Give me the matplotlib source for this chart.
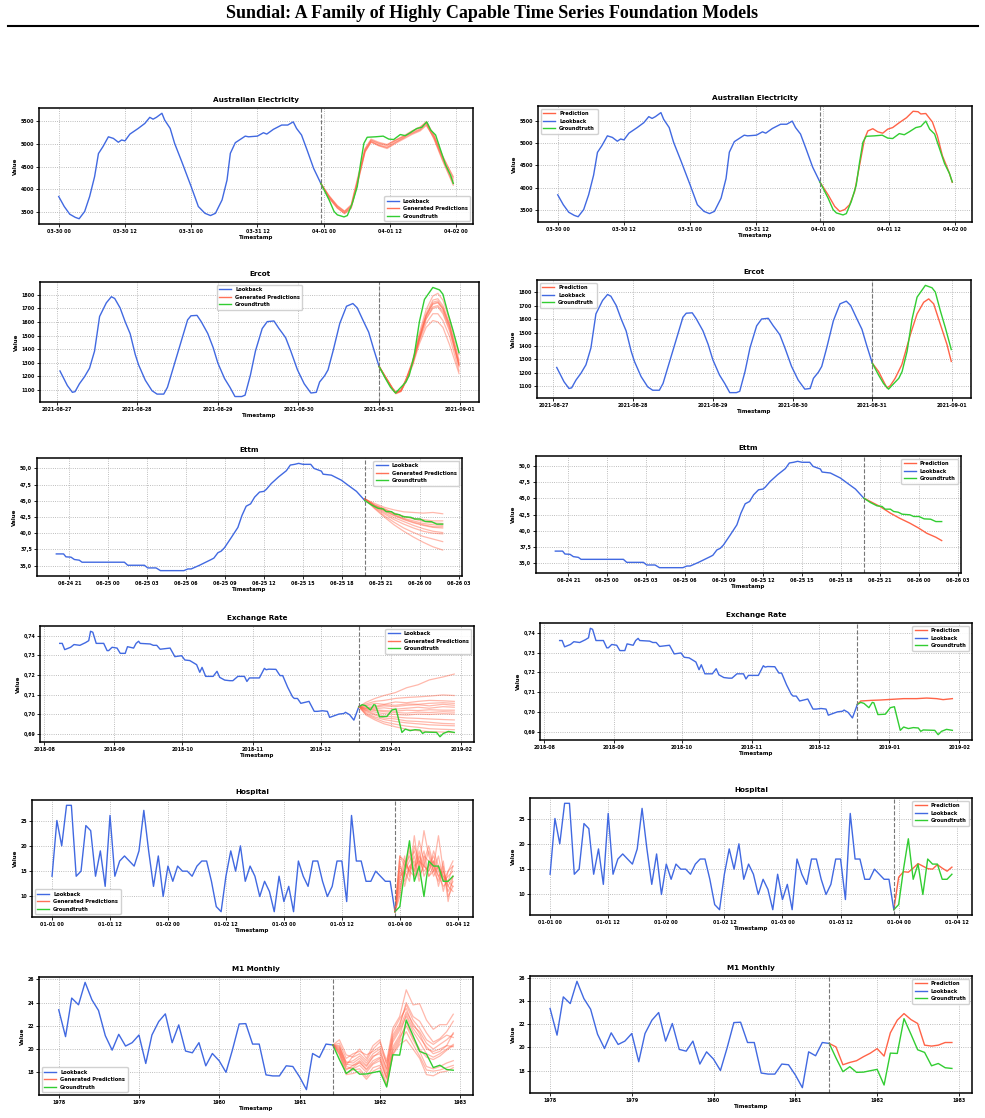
import matplotlib
matplotlib.use('Agg')
import matplotlib.pyplot as plt
import matplotlib.dates as mdates
from matplotlib.lines import Line2D
from matplotlib.ticker import FuncFormatter, MultipleLocator
import numpy as np
import pandas as pd

plt.rcParams['font.family'] = 'DejaVu Sans'
plt.rcParams['font.weight'] = 'bold'
plt.rcParams['axes.labelweight'] = 'bold'
plt.rcParams['axes.titleweight'] = 'bold'

LOOK = '#4169E1'
PRED = '#FF6347'
GT = '#32CD32'

# ---- Australian Electricity (hours from 03-30 00:00)
aus_lb_h = [0, 1, 2, 3, 3.7, 4.7, 5.6, 6.5, 7.2, 8, 9, 9.9, 10.8, 11.4, 12, 12.9, 14.4, 15.6, 16.5, 17.1,
            17.7, 18.7, 19.2, 20.2, 21, 22.3, 24, 25.3, 26.5, 27.5, 28.4, 29.6, 30.5, 31.1, 32, 33.8, 34.4,
            36, 37.1, 37.7, 38.9, 40.4, 41.5, 42.5, 43.1, 44, 45, 46.2, 47.5]
aus_lb = [3840, 3620, 3450, 3380, 3350, 3510, 3840, 4280, 4790, 4940, 5160, 5125, 5040, 5090, 5070, 5220,
          5345, 5455, 5590, 5550, 5590, 5680, 5530, 5345, 5015, 4610, 4060, 3620, 3470, 3420, 3470, 3765,
          4205, 4795, 5030, 5175, 5160, 5175, 5250, 5220, 5325, 5420, 5420, 5490, 5345, 5200, 4870, 4460, 4130]
aus_gt_h = [47.5, 49, 49.9, 50.5, 51.7, 52.3, 53.2, 54.1, 54.7, 55.3, 55.9, 57.4, 58.8, 59.8, 60.7, 61.9,
            62.8, 63.7, 64.9, 65.8, 66.7, 67.4, 68.3, 69.2, 70.1, 71, 71.5]
aus_gt = [4130, 3765, 3510, 3435, 3390, 3420, 3690, 4060, 4570, 5015, 5150, 5160, 5175, 5110, 5100, 5210,
          5185, 5250, 5345, 5370, 5490, 5310, 5200, 4870, 4540, 4315, 4130]
aus_pred_h = [47.5, 49, 50.2, 51.1, 52, 52.9, 53.8, 54.7, 55.6, 56.2, 57.1, 58, 58.9, 59.8, 60.7, 61.9,
              63.2, 64.4, 65.3, 65.8, 66.7, 67.9, 68.8, 69.7, 70.9, 71.5]
aus_pred = [4130, 3840, 3580, 3470, 3510, 3620, 3910, 4500, 5090, 5270, 5320, 5250, 5220, 5310, 5345, 5455,
            5565, 5710, 5700, 5650, 5660, 5470, 5160, 4720, 4350, 4120]
aus_smp_h = [47.5, 49, 50.5, 51.8, 53, 54.3, 55.5, 56.6, 58, 59.5, 61, 62.5, 64, 65.5, 66.6, 68, 69.5, 71.5]
aus_smp = [
    [4130, 3840, 3620, 3500, 3640, 4280, 4870, 5080, 5010, 4960, 5070, 5160, 5260, 5340, 5470, 5170, 4720, 4200],
    [4130, 3810, 3580, 3470, 3590, 4200, 4820, 5050, 4980, 4930, 5040, 5130, 5230, 5310, 5430, 5130, 4670, 4120],
    [4130, 3850, 3640, 3520, 3660, 4320, 4900, 5110, 5040, 4990, 5090, 5180, 5290, 5370, 5500, 5200, 4760, 4250],
    [4130, 3820, 3600, 3480, 3610, 4240, 4840, 5060, 4970, 4920, 5030, 5140, 5280, 5380, 5460, 5110, 4650, 4090],
    [4130, 3860, 3630, 3510, 3630, 4260, 4880, 5090, 5020, 4980, 5080, 5170, 5240, 5320, 5480, 5190, 4740, 4280],
    [4130, 3800, 3590, 3460, 3580, 4210, 4830, 5040, 4960, 4900, 5010, 5110, 5210, 5290, 5410, 5150, 4700, 4150],
]

# ---- Ercot (hours from 2021-08-27 00:00)
ercot_lb_h = [1, 3.2, 4.7, 5.5, 6.8, 8.3, 9.8, 11.3, 12.8, 14.8, 16.3, 17.3, 18.9, 20.4, 21.9, 23.4, 24.4,
              26.4, 28.4, 29.9, 31.9, 33, 35, 37, 39, 40, 41.8, 43, 45, 46.6, 48, 50, 51.6, 53.1, 55.1, 56.1,
              57.7, 59.2, 61.2, 62.7, 64.7, 66.2, 67.2, 68.2, 69.7, 71.7, 73.7, 75.7, 77.3, 78.3, 79.8, 80.8,
              82.3, 84.3, 86.3, 88.2, 89.5, 91.4, 92.9, 94.4, 96]
ercot_lb = [1240, 1133, 1083, 1088, 1146, 1197, 1260, 1386, 1640, 1740, 1785, 1772, 1703, 1602, 1513, 1362,
            1285, 1172, 1095, 1070, 1070, 1120, 1285, 1450, 1615, 1645, 1648, 1604, 1515, 1412, 1298, 1184,
            1120, 1052, 1052, 1062, 1210, 1387, 1551, 1602, 1607, 1551, 1518, 1483, 1387, 1248, 1146, 1078,
            1083, 1159, 1205, 1248, 1387, 1589, 1715, 1735, 1703, 1602, 1525, 1399, 1273]
ercot_gt_h = [96, 97.9, 99.4, 100.9, 102.5, 104, 105, 106.5, 108, 109.5, 112, 114, 115, 116.5, 118, 119.8]
ercot_gt = [1273, 1184, 1120, 1078, 1120, 1159, 1210, 1361, 1602, 1765, 1853, 1835, 1803, 1664, 1538, 1374]
ercot_pred_h = [96, 97.9, 100.4, 101.4, 102.9, 104.9, 107.5, 109.5, 111.5, 113, 114.5, 116.5, 118.5, 119.8]
ercot_pred = [1273, 1210, 1088, 1103, 1159, 1260, 1487, 1640, 1727, 1752, 1715, 1563, 1412, 1285]
ercot_smp_h = [96, 98, 100, 101, 102.5, 104, 106, 108, 110, 112, 113.5, 115, 117, 119.8]
ercot_smp = [
    [1273, 1195, 1115, 1085, 1100, 1180, 1320, 1520, 1690, 1790, 1810, 1760, 1620, 1360],
    [1273, 1185, 1105, 1075, 1090, 1165, 1290, 1460, 1590, 1660, 1660, 1610, 1490, 1240],
    [1273, 1190, 1110, 1080, 1095, 1170, 1300, 1480, 1640, 1730, 1740, 1700, 1570, 1300],
    [1273, 1188, 1108, 1078, 1092, 1168, 1295, 1470, 1620, 1700, 1710, 1660, 1530, 1280],
    [1273, 1192, 1112, 1082, 1098, 1175, 1310, 1500, 1660, 1760, 1770, 1720, 1590, 1320],
    [1273, 1186, 1104, 1072, 1088, 1160, 1280, 1440, 1560, 1610, 1600, 1560, 1430, 1220],
    [1273, 1191, 1111, 1081, 1096, 1172, 1305, 1490, 1650, 1745, 1755, 1705, 1575, 1290],
    [1273, 1189, 1109, 1079, 1094, 1169, 1298, 1475, 1625, 1710, 1720, 1675, 1545, 1270],
    [1273, 1190, 1110, 1080, 1095, 1172, 1302, 1485, 1645, 1735, 1745, 1690, 1560, 1285],
]

# ---- Ettm (hours from 06-24 20:00)
ettm_lb_h = [0, 0.56, 0.74, 1.13, 1.39, 1.77, 1.98, 5.24, 5.5, 6.78, 7.04, 7.68, 8.02, 9.82, 10.13, 10.38,
             11.03, 11.93, 12.13, 12.44, 12.7, 12.95, 13.47, 13.98, 14.29, 14.62, 14.96, 15.27, 15.65, 15.99,
             16.17, 16.55, 17.12, 17.71, 18.02, 18.35, 18.66, 19, 19.59, 19.84, 20.41, 20.54, 21.18, 21.95,
             22.47, 23.11, 23.75]
ettm_lb = [36.8, 36.8, 36.35, 36.3, 35.94, 35.83, 35.52, 35.52, 35.05, 35.05, 34.64, 34.64, 34.22, 34.22,
           34.48, 34.48, 35.05, 35.94, 36.15, 36.98, 37.24, 37.76, 39.32, 40.89, 42.71, 44.17, 44.53, 45.57,
           46.35, 46.46, 46.77, 47.66, 48.7, 49.64, 50.52, 50.63, 50.78, 50.63, 50.63, 50.0, 49.58, 49.11,
           48.96, 48.18, 47.4, 46.46, 45.05]
ettm_gt_h = [23.75, 24.26, 24.77, 25.16, 25.4, 25.8, 26.05, 26.4, 26.7, 27.3, 27.6, 28, 28.4, 28.9, 29.3, 29.75]
ettm_gt = [45.05, 44.37, 43.85, 43.75, 43.33, 43.33, 42.97, 42.86, 42.55, 42.45, 42.19, 42.19, 41.82, 41.77,
           41.4, 41.4]
ettm_pred_h = [23.75, 25, 25.8, 26.5, 27.3, 28, 28.6, 29.3, 29.75]
ettm_pred = [45.05, 43.75, 42.71, 41.93, 41.15, 40.36, 39.58, 38.96, 38.44]
ettm_smp_h = [23.75, 24.5, 25.25, 26, 26.75, 27.5, 28.25, 29, 29.75]
ettm_smp = [
    [45.3, 44.6, 44.0, 43.6, 43.3, 43.2, 43.1, 43.2, 43.0],
    [45.3, 44.4, 43.8, 43.1, 42.6, 42.3, 42.1, 41.9, 41.9],
    [45.3, 44.3, 43.6, 42.9, 42.3, 41.9, 41.5, 41.3, 41.2],
    [45.3, 44.2, 43.4, 42.7, 42.1, 41.6, 41.2, 40.9, 40.8],
    [45.3, 44.1, 43.2, 42.4, 41.8, 41.2, 40.7, 40.3, 40.1],
    [45.3, 44.0, 43.0, 42.1, 41.4, 40.8, 40.3, 40.0, 39.9],
    [45.3, 43.9, 42.7, 41.7, 40.8, 40.1, 39.5, 39.1, 38.7],
    [45.3, 43.8, 42.5, 41.3, 40.3, 39.4, 38.6, 37.9, 37.4],
    [45.3, 44.3, 43.7, 43.1, 42.6, 42.2, 41.8, 41.6, 41.5],
    [45.3, 44.2, 43.5, 42.8, 42.2, 41.7, 41.3, 41.0, 41.0],
]

# ---- Exchange Rate (days from 2018-08-01)
ex_lb_d = [6.9, 8, 9.1, 11.7, 13.2, 15.8, 18.3, 19.7, 20.5, 21.5, 23, 26.3, 27.8, 28.5, 30, 32.2, 33.6, 35.8,
           36.8, 39.5, 40.6, 41.7, 42.4, 46.8, 48.2, 49.7, 51.2, 55.6, 57.7, 60.7, 62.1, 64.3, 67.3, 68.7,
           69.7, 71.3, 74.6, 76.3, 77.5, 79.7, 81.9, 83.3, 85.5, 88.4, 89.5, 90.6, 95, 97.2, 98, 99.1, 102.3,
           104.1, 105.3, 107.5, 109.6, 110.4, 111.8, 113.3, 116.9, 119.2, 120.6, 122.8, 125, 126, 130.1, 132.3,
           133, 134.8, 136.7, 138.9]
ex_lb = [0.7362, 0.7362, 0.733, 0.7342, 0.7356, 0.7352, 0.7366, 0.7376, 0.7424, 0.7419, 0.7362, 0.7362,
         0.7325, 0.7325, 0.7342, 0.7338, 0.7311, 0.7311, 0.7345, 0.7338, 0.7362, 0.7373, 0.7362, 0.7359,
         0.7352, 0.7352, 0.7332, 0.7338, 0.7294, 0.7299, 0.7277, 0.7274, 0.7253, 0.7214, 0.7239, 0.7193,
         0.7193, 0.7219, 0.7188, 0.7174, 0.7171, 0.7171, 0.7193, 0.7193, 0.7167, 0.7185, 0.7185, 0.7234,
         0.7227, 0.723, 0.7229, 0.7197, 0.7197, 0.7137, 0.7089, 0.708, 0.708, 0.7055, 0.7065, 0.7014, 0.7014,
         0.7017, 0.7014, 0.6983, 0.7, 0.7003, 0.7009, 0.6997, 0.6969, 0.7038]
ex_gt_d = [138.9, 140.4, 141.8, 144, 145.5, 146.2, 148, 151.3, 153.5, 155.3, 157.9, 159.4, 161.5, 163.7,
           165.9, 167, 168.1, 173.2, 174.7, 176.2, 178.4, 181]
ex_gt = [0.7038, 0.7048, 0.7043, 0.7021, 0.7048, 0.7046, 0.6986, 0.6988, 0.7021, 0.7026, 0.6906, 0.6923,
         0.6915, 0.692, 0.6918, 0.6901, 0.6908, 0.6906, 0.6884, 0.6901, 0.6911, 0.6906]
ex_pred_d = [138.9, 140.4, 144.7, 149.1, 153.5, 159.4, 165.2, 169.6, 174, 176.9, 181]
ex_pred = [0.7038, 0.7055, 0.7058, 0.706, 0.7063, 0.7067, 0.7067, 0.707, 0.7067, 0.7062, 0.7067]
ex_smp_d = [138.9, 142, 146, 150, 155, 160, 165, 170, 176, 181]
ex_smp = [
    [0.7038, 0.7060, 0.7080, 0.7095, 0.7110, 0.7135, 0.7150, 0.7175, 0.7190, 0.7205],
    [0.7038, 0.7052, 0.7065, 0.7070, 0.7080, 0.7085, 0.7088, 0.7092, 0.7098, 0.7095],
    [0.7038, 0.7045, 0.7055, 0.7050, 0.7062, 0.7058, 0.7065, 0.7070, 0.7068, 0.7065],
    [0.7038, 0.7042, 0.7040, 0.7048, 0.7045, 0.7052, 0.7050, 0.7055, 0.7058, 0.7055],
    [0.7038, 0.7030, 0.7035, 0.7042, 0.7038, 0.7045, 0.7048, 0.7042, 0.7050, 0.7045],
    [0.7038, 0.7035, 0.7028, 0.7032, 0.7025, 0.7030, 0.7035, 0.7030, 0.7038, 0.7035],
    [0.7038, 0.7028, 0.7022, 0.7018, 0.7015, 0.7020, 0.7018, 0.7022, 0.7020, 0.7020],
    [0.7038, 0.7025, 0.7018, 0.7012, 0.7008, 0.7005, 0.7010, 0.7008, 0.7012, 0.7010],
    [0.7038, 0.7020, 0.7010, 0.7002, 0.6998, 0.6995, 0.7000, 0.6998, 0.7002, 0.7000],
    [0.7038, 0.7018, 0.7000, 0.6990, 0.6985, 0.6980, 0.6978, 0.6975, 0.6972, 0.6970],
    [0.7038, 0.7012, 0.6995, 0.6980, 0.6975, 0.6965, 0.6962, 0.6958, 0.6952, 0.6950],
    [0.7038, 0.7005, 0.6985, 0.6972, 0.6962, 0.6955, 0.6950, 0.6945, 0.6942, 0.6940],
    [0.7038, 0.7000, 0.6978, 0.6960, 0.6948, 0.6938, 0.6932, 0.6925, 0.6922, 0.6920],
    [0.7038, 0.6995, 0.6970, 0.6950, 0.6935, 0.6922, 0.6915, 0.6910, 0.6908, 0.6905],
]

# ---- Hospital (hourly from 01-01 00:00)
hosp_lb = [14, 25, 20, 28, 28, 14, 15, 24, 23, 14, 19, 12, 26, 14, 17, 18, 17, 16, 19, 27, 19, 12, 18, 10,
           16, 13, 16, 15, 15, 14, 16, 17, 17, 13, 8, 7, 14, 19, 15, 20, 13, 16, 14, 10, 13, 11, 7, 14, 9, 12,
           7, 17, 14, 12, 17, 17, 13, 10, 12, 17, 17, 9, 26, 17, 17, 13, 13, 15, 14, 13, 13, 7]
hosp_gt = [7, 8, 15, 21, 13, 16, 10, 17, 16, 16, 13, 13, 14]
hosp_pred = [7, 13.4, 14.5, 14.4, 15.2, 16.1, 15.6, 15.1, 15.0, 15.9, 15.2, 14.6, 15.4]
hosp_smp = [
    [7, 18, 16, 20, 14, 18, 16, 15, 17, 14, 12, 13, 16],
    [7, 12, 15, 17, 19, 16, 23, 18, 15, 16, 14, 11, 13],
    [7, 15, 13, 16, 15, 21, 17, 14, 16, 22, 15, 12, 14],
    [7, 10, 17, 15, 18, 14, 16, 19, 15, 13, 17, 10, 12],
    [7, 16, 14, 19, 16, 17, 15, 16, 18, 15, 13, 14, 15],
    [7, 13, 18, 14, 22, 15, 18, 17, 14, 16, 11, 15, 17],
    [7, 17, 12, 16, 17, 13, 17, 20, 16, 14, 15, 12, 11],
    [7, 11, 16, 18, 15, 19, 14, 16, 17, 12, 16, 9, 14],
    [7, 14, 15, 13, 20, 17, 16, 15, 19, 16, 14, 13, 12],
    [7, 18, 17, 15, 14, 16, 19, 14, 15, 18, 13, 15, 16],
]

# ---- M1 Monthly (monthly from 1978-01)
m1_lb = [23.38, 21.07, 24.39, 23.81, 25.74, 24.24, 23.32, 21.15, 19.91, 21.27, 20.26, 20.55, 21.21, 18.76,
         21.21, 22.37, 23.03, 20.55, 22.08, 19.83, 19.68, 20.55, 18.56, 19.62, 18.99, 18.0, 19.91, 22.16,
         22.19, 20.43, 20.43, 17.78, 17.69, 17.69, 18.56, 18.5, 17.6, 16.51, 19.62, 19.28, 20.43, 20.35]
m1_gt = [20.35, 19.1, 17.9, 18.33, 17.84, 17.86, 17.98, 18.1, 16.74, 19.51, 19.48, 22.5, 21.15, 19.8, 19.57,
         18.41, 18.61, 18.24, 18.18]
m1_pred = [20.35, 20.05, 18.5, 18.7, 18.85, 19.2, 19.5, 19.9, 19.25, 21.27, 22.37, 22.94, 22.42, 22.08, 20.2,
           20.12, 20.2, 20.43, 20.43]
m1_smp = [
    [20.35, 20.8, 19.5, 19.3, 19.6, 19.0, 20.0, 20.6, 19.0, 21.8, 22.8, 25.1, 23.8, 23.9, 22.5, 21.7, 22.1, 22.1, 23.0],
    [20.35, 20.3, 18.8, 19.0, 19.4, 18.8, 19.6, 20.0, 18.2, 21.0, 22.0, 24.0, 22.8, 22.4, 21.4, 20.6, 20.9, 21.5, 22.4],
    [20.35, 19.8, 18.2, 18.6, 18.8, 18.3, 19.0, 19.3, 17.6, 20.2, 21.2, 23.0, 21.8, 21.0, 20.2, 19.6, 19.8, 20.3, 21.4],
    [20.35, 20.0, 18.5, 18.3, 18.6, 18.0, 18.7, 19.0, 17.4, 19.8, 20.8, 22.3, 21.0, 20.0, 19.3, 19.1, 19.4, 19.9, 20.3],
    [20.35, 19.6, 17.9, 18.2, 18.3, 17.6, 18.4, 18.6, 17.0, 19.6, 20.6, 21.5, 20.4, 19.4, 18.2, 18.1, 18.2, 18.4, 18.6],
    [20.35, 19.9, 18.6, 19.4, 20.0, 19.2, 20.3, 20.8, 18.6, 21.5, 22.6, 23.5, 22.0, 21.5, 20.5, 20.0, 20.4, 20.8, 21.3],
    [20.35, 19.5, 17.8, 17.9, 18.1, 17.4, 18.1, 18.4, 16.8, 19.5, 20.4, 20.8, 20.0, 19.2, 17.8, 17.7, 18.0, 18.1, 18.4],
    [20.35, 20.2, 18.9, 18.8, 19.2, 18.6, 19.4, 19.6, 17.9, 20.6, 21.6, 22.8, 21.5, 20.6, 19.6, 19.3, 19.6, 20.0, 20.4],
    [20.35, 20.5, 19.2, 19.6, 19.8, 19.5, 19.8, 20.2, 18.8, 21.2, 22.2, 23.8, 22.5, 21.8, 20.8, 20.4, 20.8, 21.2, 21.0],
    [20.35, 19.7, 18.3, 18.4, 18.9, 18.2, 18.8, 19.2, 17.5, 20.0, 21.0, 22.0, 20.8, 19.8, 18.5, 18.3, 18.5, 18.8, 19.0],
    [20.35, 20.1, 18.7, 18.6, 19.0, 18.5, 19.3, 19.8, 18.3, 20.8, 21.8, 23.2, 22.2, 21.3, 20.0, 19.8, 20.0, 20.3, 20.2],
]


def hours(start, h):
    return pd.Timestamp(start) + pd.to_timedelta(np.asarray(h, dtype=float), unit='h')


def days(start, d):
    return pd.Timestamp(start) + pd.to_timedelta(np.asarray(d, dtype=float), unit='D')


def months(start, m):
    return pd.DatetimeIndex([pd.Timestamp(start) + pd.DateOffset(months=int(k)) for k in m])


comma1 = FuncFormatter(lambda v, p: f'{v:.1f}'.replace('.', ','))
comma2 = FuncFormatter(lambda v, p: f'{v:.2f}'.replace('.', ','))

aus = dict(title='Australian Electricity',
           lb=(hours('2015-03-30', aus_lb_h), aus_lb), gt=(hours('2015-03-30', aus_gt_h), aus_gt),
           pred=(hours('2015-03-30', aus_pred_h), aus_pred),
           smp=(hours('2015-03-30', aus_smp_h), aus_smp),
           loc=mdates.HourLocator(byhour=[0, 12]), fmt=mdates.DateFormatter('%m-%d %H'),
           ystep=500, yfmt=None, legL='lower right', legR='upper left')
ercot = dict(title='Ercot',
             lb=(hours('2021-08-27', ercot_lb_h), ercot_lb), gt=(hours('2021-08-27', ercot_gt_h), ercot_gt),
             pred=(hours('2021-08-27', ercot_pred_h), ercot_pred),
             smp=(hours('2021-08-27', ercot_smp_h), ercot_smp),
             loc=mdates.DayLocator(), fmt=mdates.DateFormatter('%Y-%m-%d'),
             ystep=100, yfmt=None, legL='upper center', legR='upper left')
ettm = dict(title='Ettm',
            lb=(hours('2017-06-24 20:00', ettm_lb_h), ettm_lb), gt=(hours('2017-06-24 20:00', ettm_gt_h), ettm_gt),
            pred=(hours('2017-06-24 20:00', ettm_pred_h), ettm_pred),
            smp=(hours('2017-06-24 20:00', ettm_smp_h), ettm_smp),
            loc=mdates.HourLocator(byhour=range(0, 24, 3)), fmt=mdates.DateFormatter('%m-%d %H'),
            ystep=2.5, yfmt=comma1, legL='upper right', legR='upper right')
exch = dict(title='Exchange Rate',
            lb=(days('2018-08-01', ex_lb_d), ex_lb), gt=(days('2018-08-01', ex_gt_d), ex_gt),
            pred=(days('2018-08-01', ex_pred_d), ex_pred),
            smp=(days('2018-08-01', ex_smp_d), ex_smp),
            loc=mdates.MonthLocator(), fmt=mdates.DateFormatter('%Y-%m'),
            ystep=0.01, yfmt=comma2, legL='upper right', legR='upper right')
hosp_t = hours('2000-01-01', range(0, 84))
hosp = dict(title='Hospital',
            lb=(hosp_t[:72], hosp_lb), gt=(hosp_t[71:], hosp_gt),
            pred=(hosp_t[71:], hosp_pred), smp=(hosp_t[71:], hosp_smp),
            loc=mdates.HourLocator(byhour=[0, 12]), fmt=mdates.DateFormatter('%m-%d %H'),
            ystep=5, yfmt=None, legL='lower left', legR='upper right')
m1_t = months('1978-01-01', range(0, 60))
m1 = dict(title='M1 Monthly',
          lb=(m1_t[:42], m1_lb), gt=(m1_t[41:], m1_gt),
          pred=(m1_t[41:], m1_pred), smp=(m1_t[41:], m1_smp),
          loc=mdates.YearLocator(), fmt=mdates.DateFormatter('%Y'),
          ystep=2, yfmt=None, legL='lower left', legR='upper right')

datasets = [aus, ercot, ettm, exch, hosp, m1]

# axes boxes in pixels: (left, right, top, bottom)
boxes_L = [(39, 473, 108, 224), (40, 479, 282, 402), (37, 462, 458, 576),
           (40, 474, 626, 742), (32, 473, 800, 917), (39, 473, 977, 1095)]
boxes_R = [(538, 972, 106, 222), (537, 971, 280, 398), (536, 961, 456, 573),
           (540, 972, 623, 740), (530, 972, 798, 915), (530, 972, 976, 1093)]

W, H = 985, 1118
fig = plt.figure(figsize=(W / 100, H / 100), dpi=100)


def style(ax, d):
    ax.set_title(d['title'], fontsize=5.2, pad=4)
    ax.set_xlabel('Timestamp', fontsize=4, labelpad=1)
    ax.set_ylabel('Value', fontsize=4, labelpad=2)
    ax.xaxis.set_major_locator(d['loc'])
    ax.xaxis.set_major_formatter(d['fmt'])
    ax.yaxis.set_major_locator(MultipleLocator(d['ystep']))
    if d['yfmt'] is not None:
        ax.yaxis.set_major_formatter(d['yfmt'])
    ax.tick_params(labelsize=3.4, length=2, width=0.6, pad=1.5)
    for lbl in ax.get_xticklabels() + ax.get_yticklabels():
        lbl.set_fontweight('bold')
    ax.grid(True, linestyle=':', color='#a8a8a8', linewidth=0.6)
    for s in ax.spines.values():
        s.set_linewidth(1.1)
    ax.axvline(d['lb'][0][-1], color='#777777', linestyle='--', linewidth=0.8)


def leg(ax, loc, handles, labels):
    ax.legend(handles, labels, loc=loc, prop={'weight': 'bold', 'size': 3.7},
              handlelength=2.3, borderpad=0.5, labelspacing=0.5, framealpha=0.9, edgecolor='#cccccc')


for d, bl, br in zip(datasets, boxes_L, boxes_R):
    # left: lookback + generated predictions + groundtruth
    l, r, t, b = bl
    ax = fig.add_axes([l / W, 1 - b / H, (r - l) / W, (b - t) / H])
    ax.plot(d['lb'][0], d['lb'][1], color=LOOK, lw=1.0)
    st, sv = d['smp']
    for s in sv:
        ax.plot(st, s, color=PRED, lw=0.9, alpha=0.45)
    ax.plot(d['gt'][0], d['gt'][1], color=GT, lw=1.0)
    style(ax, d)
    leg(ax, d['legL'],
        [Line2D([], [], color=LOOK, lw=1), Line2D([], [], color=PRED, lw=1, alpha=0.9),
         Line2D([], [], color=GT, lw=1)],
        ['Lookback', 'Generated Predictions', 'Groundtruth'])

    # right: single prediction
    l, r, t, b = br
    ax = fig.add_axes([l / W, 1 - b / H, (r - l) / W, (b - t) / H])
    ax.plot(d['pred'][0], d['pred'][1], color=PRED, lw=1.0, label='Prediction')
    ax.plot(d['lb'][0], d['lb'][1], color=LOOK, lw=1.0, label='Lookback')
    ax.plot(d['gt'][0], d['gt'][1], color=GT, lw=1.0, label='Groundtruth')
    style(ax, d)
    h_, l_ = ax.get_legend_handles_labels()
    leg(ax, d['legR'], h_, l_)

fig.text(0.5, 1 - 14 / H, 'Sundial: A Family of Highly Capable Time Series Foundation Models',
         ha='center', va='center', fontsize=13, fontweight='bold', family='Liberation Serif')
fig.add_artist(Line2D([8 / W, 978 / W], [1 - 26 / H, 1 - 26 / H], color='black', lw=1.5))

fig.savefig('out.png', dpi=100)
